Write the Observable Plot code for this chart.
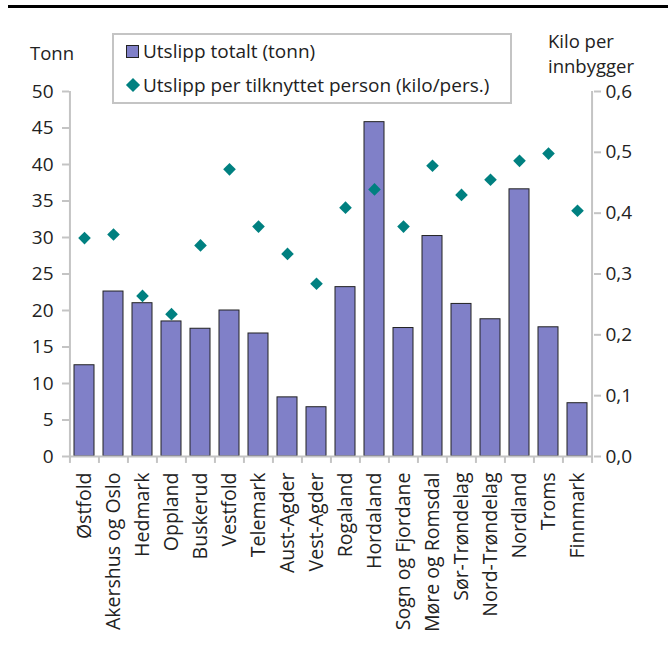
<!DOCTYPE html>
<html>
<head>
<meta charset="utf-8">
<script src="https://cdn.jsdelivr.net/npm/d3@7"></script>
<script src="https://cdn.jsdelivr.net/npm/@observablehq/plot@0.6"></script>
<style>
  html, body { margin: 0; padding: 0; background: #fff; }
  body { font-family: "Open Sans", "Noto Sans", sans-serif; color: #222; }
  #wrap { position: relative; width: 668px; height: 649px; overflow: hidden; }
  #chart { position: absolute; left: 0; top: 0; }
  .topline { position: absolute; left: 8px; top: 5px; width: 660px; height: 3px; background: #000; }
  .ylab { position: absolute; font-size: 18.5px; line-height: 29px; white-space: nowrap; }
  .rlab { position: absolute; font-size: 18.5px; line-height: 18.5px; white-space: nowrap; }
  .legend { position: absolute; left: 112px; top: 33px; width: 396px; height: 67px;
            border: 2px solid #c4c4c4; box-sizing: content-box; background: #fff; }
  .item { position: absolute; left: 12px; font-size: 19px; line-height: 26px; white-space: nowrap; display: flex; align-items: center; }
  .sw { display: inline-block; width: 11px; height: 11px; background: #8080c8; border: 1px solid #222; margin-right: 4px; }
  .dia { display: inline-block; width: 10px; height: 10px; background: #008080; transform: rotate(45deg); margin: 0 5px 0 2px; }
</style>
</head>
<body>
<div id="wrap">
  <div id="chart"></div>
  <div class="topline"></div>
  <div class="ylab" style="left:30px; top:38px;">Tonn</div>
  <div class="rlab" style="left:548px; top:32px;">Kilo per</div>
  <div class="rlab" style="left:548px; top:57px;">innbygger</div>
  <div class="legend">
    <div class="item" style="top:3px;"><span class="sw"></span>Utslipp totalt (tonn)</div>
    <div class="item" style="top:37px;"><span class="dia"></span>Utslipp per tilknyttet person (kilo/pers.)</div>
  </div>
</div>
<script>
const categories = ["Østfold", "Akershus og Oslo", "Hedmark", "Oppland", "Buskerud", "Vestfold",
  "Telemark", "Aust-Agder", "Vest-Agder", "Rogaland", "Hordaland", "Sogn og Fjordane",
  "Møre og Romsdal", "Sør-Trøndelag", "Nord-Trøndelag", "Nordland", "Troms", "Finnmark"];
const tonn = [12.5, 22.6, 21.0, 18.5, 17.5, 20.0, 16.85, 8.1, 6.75, 23.2, 45.8, 17.6, 30.2, 20.9, 18.8, 36.6, 17.7, 7.3];
const kiloPerPerson = [0.359, 0.365, 0.264, 0.234, 0.347, 0.472, 0.378, 0.333, 0.284, 0.409, 0.439, 0.378, 0.478, 0.430, 0.455, 0.486, 0.498, 0.404];
const leftTicks = [0, 5, 10, 15, 20, 25, 30, 35, 40, 45, 50];
const rightTicks = [0, 0.1, 0.2, 0.3, 0.4, 0.5, 0.6];

const leftMax = 50, rightMax = 0.6;
const toLeft = v => v * leftMax / rightMax;

const data = categories.map((c, i) => ({cat: c, tonn: tonn[i], kilo: kiloPerPerson[i]}));

const W = 668, H = 649, mL = 69, mR = 75, mT = 91, mB = 193;
const step = (W - mL - mR) / categories.length;
const grey = "#c4c4c4";
const last = categories[categories.length - 1];

const plot = Plot.plot({
  width: W, height: H,
  marginLeft: mL, marginRight: mR, marginTop: mT, marginBottom: mB,
  style: {fontFamily: "'Open Sans', 'Noto Sans', sans-serif", fontSize: "19px", color: "#222", background: "transparent"},
  x: {domain: categories, paddingInner: 0.31, paddingOuter: 0.155, label: null},
  y: {domain: [0, leftMax], label: null},
  marks: [
    Plot.barY(data, {x: "cat", y: "tonn", fill: "#8080c8", stroke: "#222", strokeWidth: 1}),
    // axis lines
    Plot.ruleY([0], {stroke: grey, strokeWidth: 2}),
    Plot.ruleX([categories[0]], {y1: 0, y2: leftMax, dx: -step / 2, stroke: grey, strokeWidth: 2}),
    Plot.ruleX([last], {y1: 0, y2: leftMax, dx: step / 2, stroke: grey, strokeWidth: 2}),
    // category boundary ticks
    Plot.ruleX(categories, {y1: 0, y2: -0.95, dx: -step / 2, stroke: grey, strokeWidth: 2}),
    Plot.ruleX([last], {y1: 0, y2: -0.95, dx: step / 2, stroke: grey, strokeWidth: 2}),
    Plot.axisY({ticks: leftTicks, tickSize: 7, tickPadding: 9, stroke: grey, fill: "#222", strokeWidth: 2, fontSize: 19, label: null}),
    Plot.axisY({anchor: "right", ticks: rightTicks.map(toLeft), tickSize: 7, tickPadding: 5,
      tickFormat: d => (d * rightMax / leftMax).toFixed(1).replace(".", ","),
      stroke: grey, fill: "#222", strokeWidth: 2, fontSize: 19, label: null}),
    Plot.axisX({tickSize: 0, tickPadding: 16, tickRotate: -90, fontSize: 19.5, fill: "#222", label: null}),
    Plot.dot(data, {x: "cat", y: d => toLeft(d.kilo), symbol: "diamond2", r: 5.7, fill: "#008080", stroke: "none"})
  ]
});
document.getElementById("chart").appendChild(plot);
</script>
</body>
</html>
